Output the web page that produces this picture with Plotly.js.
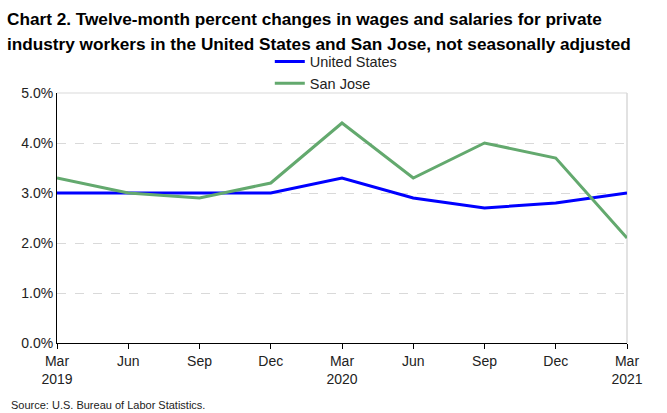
<!DOCTYPE html>
<html><head><meta charset="utf-8">
<script src="https://cdn.plot.ly/plotly-3.0.1.min.js"></script>
<style>html,body{margin:0;padding:0;background:#fff}#chart{width:667px;height:413px}</style>
</head><body><div id="chart"></div>
<script>
var titleLines = ["Chart 2. Twelve-month percent changes in wages and salaries for private",
                  "industry workers in the United States and San Jose, not seasonally adjusted"];
var tickLabels = ["Mar<br>2019","Jun","Sep","Dec","Mar<br>2020","Jun","Sep","Dec","Mar<br>2021"];
var unitedStates = [3.0, 3.0, 3.0, 3.0, 3.3, 2.9, 2.7, 2.8, 3.0];
var sanJose = [3.3, 3.0, 2.9, 3.2, 4.4, 3.3, 4.0, 3.7, 2.1];
var xIdx = tickLabels.map(function(_, i){ return i; });
var F = "Liberation Sans, Arial, sans-serif";
var traces = [
  {x: xIdx, y: unitedStates, name: "United States", type: "scatter", mode: "lines",
   line: {color: "#0000ff", width: 3}},
  {x: xIdx, y: sanJose, name: "San Jose", type: "scatter", mode: "lines",
   line: {color: "#63a96e", width: 3}}
];
var layout = {
  width: 667, height: 413,
  margin: {l: 57, r: 40, t: 93, b: 70},
  paper_bgcolor: "#fff", plot_bgcolor: "#fff",
  font: {family: F, size: 14, color: "#222"},
  showlegend: true,
  legend: {x: 0.49, xanchor: "center", y: 1.19, yanchor: "top", orientation: "v",
    font: {size: 14.5, color: "#222"}, tracegroupgap: 0, bgcolor: "rgba(0,0,0,0)"},
  xaxis: {range: [0, 8], tickvals: xIdx, ticktext: tickLabels, showgrid: false, zeroline: false,
    showline: true, linecolor: "#000", linewidth: 1, ticks: "outside", ticklen: 5, tickcolor: "#000",
    tickfont: {size: 14, color: "#222"}, fixedrange: true},
  yaxis: {range: [0, 5], dtick: 1, tickformat: ".1f", ticksuffix: "%", showgrid: true,
    gridcolor: "#d9d9d9", griddash: "dash", zeroline: false, showline: true, linecolor: "#000",
    linewidth: 1, ticks: "", tickfont: {size: 14, color: "#222"}, fixedrange: true},
  shapes: [
    {type: "line", xref: "paper", yref: "paper", x0: 0, x1: 1, y0: 1, y1: 1, line: {color: "#d9d9d9", width: 1}, layer: "below"},
    {type: "line", xref: "paper", yref: "paper", x0: 1, x1: 1, y0: 0, y1: 1, line: {color: "#d9d9d9", width: 1.5}, layer: "below"}
  ],
  annotations: [
    {text: "<b>" + titleLines[0] + "</b>", xref: "paper", yref: "paper", x: -0.0912, y: 1.296,
     xanchor: "left", yanchor: "middle", showarrow: false, font: {size: 17.2, color: "#000"}},
    {text: "<b>" + titleLines[1] + "</b>", xref: "paper", yref: "paper", x: -0.0912, y: 1.196,
     xanchor: "left", yanchor: "middle", showarrow: false, font: {size: 17.2, color: "#000"}},
    {text: "Source: U.S. Bureau of Labor Statistics.", xref: "paper", yref: "paper", x: -0.085, y: -0.246,
     xanchor: "left", yanchor: "middle", showarrow: false, font: {size: 11, color: "#222"}}
  ]
};
Plotly.newPlot("chart", traces, layout, {displayModeBar: false, staticPlot: true});
</script></body></html>
